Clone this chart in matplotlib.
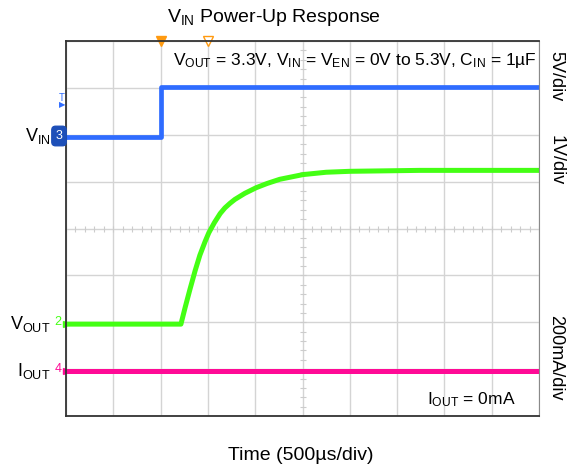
import numpy as np
import matplotlib
matplotlib.use('Agg')
import matplotlib.pyplot as plt

plt.rcParams['font.family'] = ['Liberation Sans', 'DejaVu Sans']
plt.rcParams['mathtext.fontset'] = 'custom'
plt.rcParams['mathtext.rm'] = 'Liberation Sans'
plt.rcParams['mathtext.default'] = 'rm'

# time in divisions (500us/div)
vin_t = [0.0, 2.0, 2.0, 10.0]
vin_v = [0.0, 0.0, 5.3, 5.3]          # V, 5V/div

vout_t = [0.0, 2.43, 2.52, 2.62, 2.73, 2.83, 2.94, 3.02, 3.14, 3.26, 3.36, 3.47, 3.57,
          3.78, 4.02, 4.25, 4.52, 5.01, 5.5, 6.0, 7.48, 10.0]
vout_v = [0.0, 0.0, 0.36, 0.74, 1.14, 1.47, 1.76, 1.95, 2.17, 2.36, 2.48, 2.58, 2.66,
          2.79, 2.91, 3.00, 3.09, 3.19, 3.24, 3.26, 3.28, 3.28]   # V, 1V/div

iout_t = [0.0, 10.0]
iout_v = [0.0, 0.0]                   # A, 200mA/div

# channel offsets (div) and scales
vin_off, vin_scale = 5.95, 5.0
vout_off, vout_scale = 1.96, 1.0
iout_off, iout_scale = 0.96, 0.2

c_vin = '#2f6cff'
c_vout = '#44ff14'
c_iout = '#ff0a96'
c_trig = '#ff9a10'

W, H = 569, 472
fig = plt.figure(figsize=(W / 100, H / 100), dpi=100)
ax = fig.add_axes([66 / W, 1 - 416 / H, 473 / W, 375 / H])
ax.set_xlim(0, 10)
ax.set_ylim(0, 8)
ax.set_xticks(np.arange(0, 11))
ax.set_yticks(np.arange(0, 9))
ax.grid(True, color='#d4d4d4', linewidth=1)
ax.tick_params(length=0, labelbottom=False, labelleft=False)
for s in ['left', 'bottom', 'top']:
    ax.spines[s].set_color('#333333')
    ax.spines[s].set_linewidth(1.3)
ax.spines['right'].set_color('#8a8a8a')

# small ticks on the centre lines
ax.plot(np.arange(0, 10.01, 0.2), [4] * 51, '|', color='#cccccc', ms=5, mew=0.8)
ax.plot([5] * 41, np.arange(0, 8.01, 0.2), '_', color='#cccccc', ms=5, mew=0.8)

ax.plot(iout_t, [iout_off + v / iout_scale for v in iout_v], color=c_iout, lw=3.6,
        solid_capstyle='butt')
ax.plot(vout_t, [vout_off + v / vout_scale for v in vout_v], color=c_vout, lw=3.6,
        solid_capstyle='butt', solid_joinstyle='round')
ax.plot(vin_t, [vin_off + v / vin_scale for v in vin_v], color=c_vin, lw=3.4,
        solid_capstyle='butt')

# trigger markers on top edge
ax.plot([2.0], [8], marker='v', color=c_trig, ms=7, clip_on=False)
ax.plot([3.0], [8], marker='v', mfc='white', mec=c_trig, ms=7, clip_on=False)

def px(x, y):
    return x / W, 1 - y / H

# channel markers at the left edge
fig.text(*px(59, 136), '3', color='white', fontsize=9, ha='center', va='center',
         bbox=dict(boxstyle='round,pad=0.3', fc='#1d4fb8', ec='#1d4fb8'))
fig.text(*px(58, 322), '2', color=c_vout, fontsize=9, ha='center', va='center')
fig.text(*px(58, 369), '4', color=c_iout, fontsize=9, ha='center', va='center')
ax.plot([0], [vin_off], marker='>', color=c_vin, ms=5, clip_on=False)
ax.plot([0], [vout_off], marker='>', color=c_vout, ms=5, clip_on=False)
ax.plot([0], [iout_off], marker='>', color=c_iout, ms=5, clip_on=False)
fig.text(*px(62, 98), 'T', color=c_vin, fontsize=7, ha='center', va='center')
fig.text(*px(62, 106), '\u25b6', color=c_vin, fontsize=6, ha='center', va='center')

# channel names
fig.text(*px(51, 136), r'V$_{IN}$', fontsize=13, ha='right', va='center')
fig.text(*px(50, 324), r'V$_{OUT}$', fontsize=13, ha='right', va='center')
fig.text(*px(50, 371), r'I$_{OUT}$', fontsize=13, ha='right', va='center')

# scale labels
fig.text(*px(556, 76), '5V/div', fontsize=13, rotation=-90, ha='center', va='center')
fig.text(*px(556, 160), '1V/div', fontsize=13, rotation=-90, ha='center', va='center')
fig.text(*px(556, 358), '200mA/div', fontsize=13, rotation=-90, ha='center', va='center')

fig.text(*px(173, 65), r'V$_{OUT}$ = 3.3V, V$_{IN}$ = V$_{EN}$ = 0V to 5.3V, C$_{IN}$ = 1µF',
         fontsize=12.5, ha='left', va='baseline')
fig.text(*px(427, 404), r'I$_{OUT}$ = 0mA', fontsize=12.5, ha='left', va='baseline')

fig.text(*px(274, 17), r'V$_{IN}$ Power-Up Response', fontsize=14, ha='center', va='center')
fig.text(*px(301, 455), 'Time (500µs/div)', fontsize=14, ha='center', va='center')

fig.savefig('out.png', dpi=100)
